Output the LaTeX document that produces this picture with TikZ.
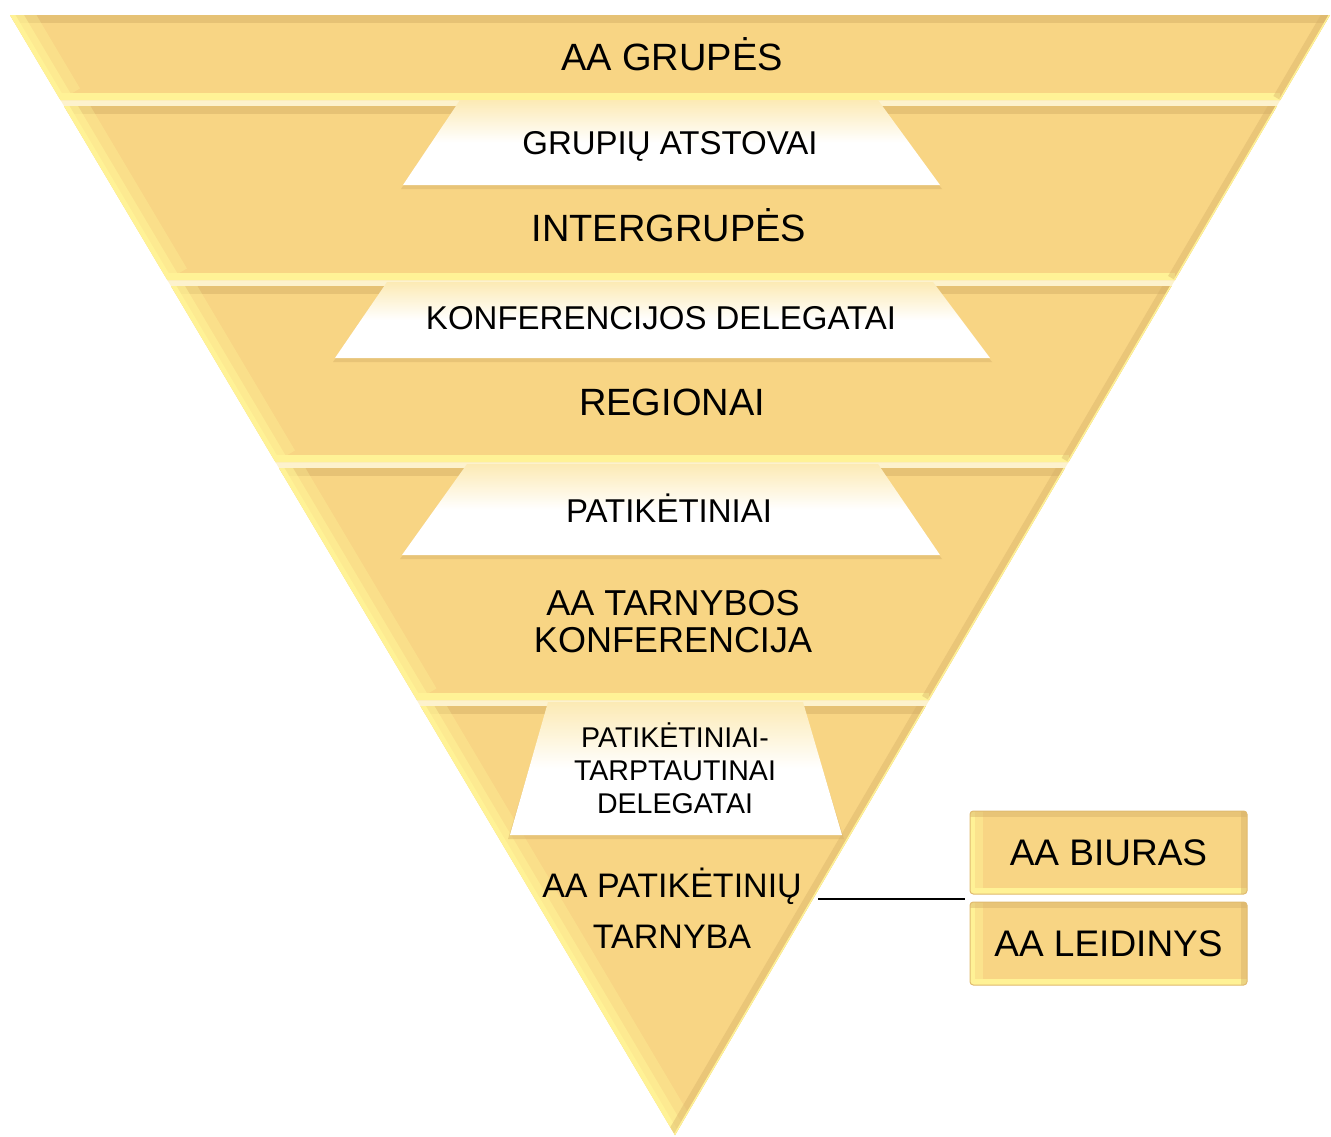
\documentclass[tikz,border=0pt]{standalone}
\usepackage{fontspec}
\setmainfont{Liberation Sans}
\usetikzlibrary{positioning}

\definecolor{bandgold}{RGB}{248,213,132}
\definecolor{bandlight}{RGB}{255,242,150}
\definecolor{banddark}{RGB}{214,176,104}
\definecolor{gapcream}{RGB}{253,242,205}
\definecolor{whitetop}{RGB}{252,234,180}

\tikzset{every picture/.style={line width=0.75pt}}
\tikzset{
  bandtext/.style={inner sep=0pt, text=black, font=\fontsize{28.5}{30}\selectfont},
  captext/.style={inner sep=0pt, text=black, font=\fontsize{24.75}{26}\selectfont},
  capfill/.style={top color=whitetop, bottom color=white, middle color=white},
  capshadow/.style={fill=banddark, opacity=0.45},
  sidebox/.style={fill=bandgold, draw=banddark!70!bandgold, rounded corners=2.5pt,
    minimum width=207.75pt, minimum height=62.25pt, inner sep=0pt, text=black,
    font=\fontsize{27.75}{29}\selectfont,
    path picture={
      \draw[bandlight, opacity=.5, line width=20pt] (path picture bounding box.north west) -- (path picture bounding box.south west);
      \draw[bandlight, line width=8pt] (path picture bounding box.north west) -- (path picture bounding box.south west);
      \draw[bandlight, line width=9pt] (path picture bounding box.south west) -- (path picture bounding box.south east);
      \draw[banddark, opacity=.45, line width=9pt] (path picture bounding box.north west) -- (path picture bounding box.north east);
      \draw[banddark, opacity=.45, line width=9pt] (path picture bounding box.north east) -- (path picture bounding box.south east);
    }},
  linkline/.style={line width=1.8pt, black}
}

% one bevelled band: top-left, top-right, bottom-right, bottom-left x, then top y, bottom y
\newcommand{\goldband}[6]{%
  \fill[bandgold] (#1,#5) -- (#2,#5) -- (#3,#6) -- (#4,#6) -- cycle;
  \begin{scope}
    \clip (#1,#5) -- (#2,#5) -- (#3,#6) -- (#4,#6) -- cycle;
    \draw[banddark, opacity=.5, line width=12pt] (#1,#5) -- (#2,#5);
    \draw[bandlight, line width=11pt] (#4,#6) -- (#3,#6);
    \draw[bandlight, opacity=.35, line width=34pt] (#1,#5) -- (#4,#6);
    \draw[bandlight, opacity=.6, line width=18pt] (#1,#5) -- (#4,#6);
    \draw[bandlight, line width=7pt] (#1,#5) -- (#4,#6);
    \draw[banddark, opacity=.4, line width=12pt] (#2,#5) -- (#3,#6);
    \draw[bandlight, line width=2pt] (#2,#5) -- (#3,#6);
  \end{scope}
}

\begin{document}
\begin{tikzpicture}[x=0.75pt,y=0.75pt,yscale=-1,xscale=1]
    \useasboundingbox (0,0) rectangle (1331,1136);

    %Shape: Triangle behind the bands
    \fill[gapcream] (10,15) -- (1330,15) -- (675,1135) -- cycle;

    %Shape: Bands
    \goldband{10}{1330}{1280.3}{60.5}{15}{100}
    \goldband{64}{1277}{1175}{167.4}{106}{280}
    \goldband{171}{1171.5}{1068.5}{275.5}{286}{462}
    \goldband{279}{1065}{929}{417}{468}{700}
    \goldband{420.5}{925.8}{675}{675}{706}{1135}

    %Shape: Light caps
    \fill[capshadow] (460,104) -- (878,104) -- (942,189) -- (401,189) -- cycle;
    \shade[capfill] (460,100) -- (878,100) -- (940,185) -- (403,185) -- cycle;
    \fill[capshadow] (387,286) -- (933,286) -- (992,362) -- (333,362) -- cycle;
    \shade[capfill] (387,282) -- (933,282) -- (990,358) -- (335,358) -- cycle;
    \fill[capshadow] (467,468) -- (878,468) -- (942,559) -- (400,559) -- cycle;
    \shade[capfill] (467,464) -- (878,464) -- (940,555) -- (402,555) -- cycle;
    \fill[capshadow] (548,706) -- (803,706) -- (844,839) -- (508,839) -- cycle;
    \shade[capfill] (548,702) -- (803,702) -- (842,835) -- (510,835) -- cycle;

    % Text Node
    \node[bandtext] (grupes) at (672,54) {AA GRUPĖS};
    % Text Node
    \node[captext] (atstovai) at (670,146) {GRUPIŲ ATSTOVAI};
    % Text Node
    \node[bandtext] (intergrupes) at (669,225) {INTERGRUPĖS};
    % Text Node
    \node[captext] (delegatai) at (661,318) {KONFERENCIJOS DELEGATAI};
    % Text Node
    \node[bandtext] (regionai) at (672,402) {REGIONAI};
    % Text Node
    \node[captext] (patiketiniai) at (669,508) {PATIKĖTINIAI};
    % Text Node
    \node[bandtext, font=\fontsize{27}{27.75}\selectfont, align=center] (konferencija) at (673,622) {AA TARNYBOS\\KONFERENCIJA};
    % Text Node
    \node[captext, font=\fontsize{21.4}{24.75}\selectfont, align=center] (tarptautiniai) at (675,768) {PATIKĖTINIAI-\\TARPTAUTINAI\\DELEGATAI};
    % Text Node
    \node[bandtext, font=\fontsize{25.5}{38.25}\selectfont, align=center] (tarnyba) at (672,908) {AA PATIKĖTINIŲ\\TARNYBA};

    %Shape: Side boxes
    \node[sidebox] (biuras) at (1108.5,852.5) {AA BIURAS};
    \node[sidebox, below=5.25pt of biuras] (leidinys) {AA LEIDINYS};

    %Straight Lines
    \coordinate (lnkstart) at (818,899);
    \draw[linkline] (lnkstart) -- ([xshift=-3.75pt]lnkstart -| biuras.west);

\end{tikzpicture}
\end{document}
